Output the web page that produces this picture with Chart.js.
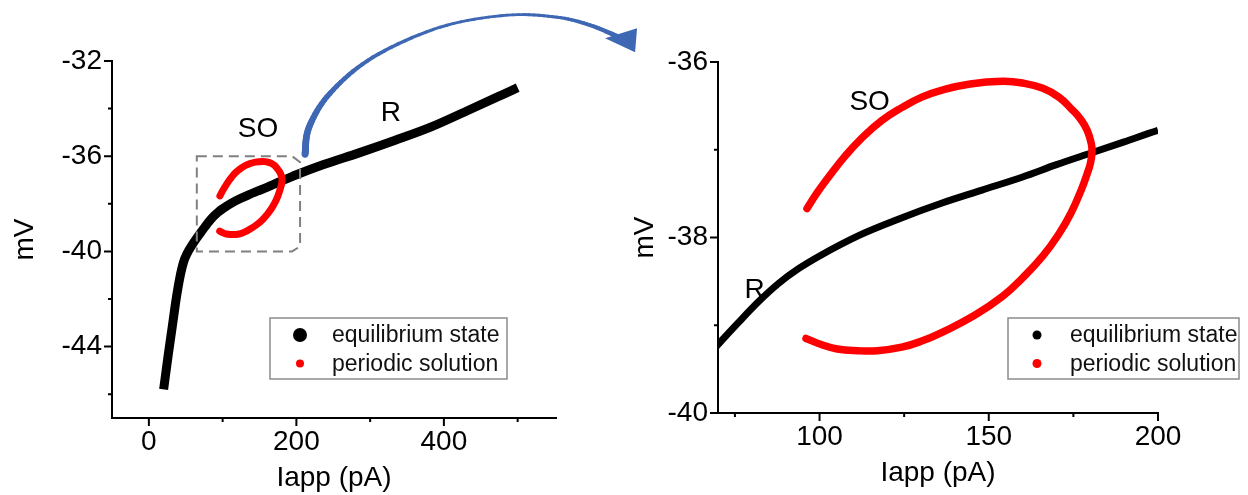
<!DOCTYPE html>
<html lang="en">
<head>
<meta charset="UTF-8">
<title>Equilibrium state and periodic solution</title>
<script src="https://cdn.jsdelivr.net/npm/chart.js"></script>
<style>
  * { margin: 0; padding: 0; box-sizing: border-box; }
  body { width: 1248px; height: 495px; background: #fff; overflow: hidden; position: relative; }
  .panel { position: absolute; top: 0; height: 495px; }
  #leftWrap { left: 0; width: 645px; }
  #rightWrap { left: 620px; width: 628px; }
</style>
</head>
<body>
<div class="panel" id="leftWrap"><canvas id="leftChart" width="645" height="495"></canvas></div>
<div class="panel" id="rightWrap"><canvas id="rightChart" width="628" height="495"></canvas></div>
<script>
// equilibrium state (black branch), Iapp in pA, V in mV
const eqX = [20, 26, 32, 37, 42, 47, 52, 58, 64, 70, 76, 82, 88, 94, 100, 112, 124, 136, 148, 160, 170, 180, 190, 200, 236, 285, 334, 382, 431, 479, 500];
const eqY = [-45.8, -44.4, -43.1, -42.0, -41.1, -40.45, -40.08, -39.76, -39.48, -39.22, -38.97, -38.73, -38.52, -38.35, -38.21, -37.97, -37.78, -37.61, -37.46, -37.31, -37.17, -37.04, -36.91, -36.78, -36.36, -35.86, -35.33, -34.78, -34.1, -33.42, -33.12];

// periodic solution (red, SO branch)
const soX = [96.3, 99.3, 102.9, 107.6, 112.4, 118.3, 124.3, 130.2, 136.2, 144.5, 154.1, 160, 166, 170.7, 174.3, 177.3, 179.1, 180.3, 180.5, 180, 179.1, 177.3, 174.3, 170.7, 166, 160, 154.1, 145.7, 136.2, 130.2, 124.3, 117.1, 111.2, 105.2, 100.5, 96];
const soY = [-37.67, -37.49, -37.3, -37.07, -36.87, -36.67, -36.52, -36.4, -36.32, -36.25, -36.22, -36.24, -36.3, -36.4, -36.53, -36.66, -36.78, -36.93, -37.03, -37.16, -37.27, -37.46, -37.72, -37.96, -38.21, -38.46, -38.67, -38.89, -39.08, -39.18, -39.25, -39.29, -39.29, -39.27, -39.22, -39.15];

const seriesNames = ['equilibrium state', 'periodic solution'];

// tick labels
const leftXMajor = [0, 200, 400];
const leftXMinor = [100, 300, 500];
const leftYMajor = [-32, -36, -40, -44];
const leftYMinor = [-34, -38, -42, -46];
const rightXMajor = [100, 150, 200];
const rightXMinor = [75, 125, 175];
const rightYMajor = [-36, -38, -40];
const rightYMinor = [-37, -39];

const FONT = '"Liberation Sans", Arial, sans-serif';
Chart.defaults.color = '#000';
Chart.defaults.font.family = FONT;

function pts(xs, ys) {
  return xs.map((x, i) => ({ x: x, y: ys[i] }));
}

// tick marks (major long, minor short), legend and text labels
const decorPlugin = {
  id: 'decor',
  afterDraw(chart, args, o) {
    const ctx = chart.ctx;
    const xs = chart.scales.x, ys = chart.scales.y;
    const a = chart.chartArea;
    ctx.save();
    ctx.strokeStyle = '#000';
    ctx.lineWidth = 2;
    ctx.beginPath();
    o.xMajor.forEach(v => { const p = xs.getPixelForValue(v); ctx.moveTo(p, a.bottom); ctx.lineTo(p, a.bottom + 8); });
    o.xMinor.forEach(v => { const p = xs.getPixelForValue(v); ctx.moveTo(p, a.bottom); ctx.lineTo(p, a.bottom + 4); });
    o.yMajor.forEach(v => { const p = ys.getPixelForValue(v); ctx.moveTo(a.left, p); ctx.lineTo(a.left - 8, p); });
    o.yMinor.forEach(v => { const p = ys.getPixelForValue(v); ctx.moveTo(a.left, p); ctx.lineTo(a.left - 4, p); });
    ctx.stroke();

    // text labels on the branches
    ctx.fillStyle = '#000';
    ctx.font = '28px ' + FONT;
    ctx.textAlign = 'center';
    ctx.textBaseline = 'middle';
    o.notes.forEach(n => ctx.fillText(n.text, xs.getPixelForValue(n.x), ys.getPixelForValue(n.y)));

    // legend
    const L = o.legend;
    ctx.strokeStyle = '#8c8c8c';
    ctx.lineWidth = 1.5;
    ctx.strokeRect(L.x, L.y, L.w, L.h);
    ctx.font = '23px ' + FONT;
    ctx.textAlign = 'left';
    chart.data.datasets.forEach((ds, i) => {
      const cy = L.y + 17 + i * 28.5;
      ctx.fillStyle = ds.borderColor;
      ctx.beginPath();
      ctx.arc(L.x + L.mark, cy, L.r[i], 0, Math.PI * 2);
      ctx.fill();
      ctx.fillStyle = '#111';
      ctx.fillText(ds.label, L.x + L.text, cy + 1);
    });
    ctx.restore();
    if (o.extra) o.extra(chart);
  }
};

function makePanel(id, c) {
  return new Chart(document.getElementById(id), {
    type: 'line',
    data: {
      datasets: [
        { label: seriesNames[0], data: pts(eqX, eqY), borderColor: '#000', backgroundColor: '#000',
          pointRadius: 0, borderWidth: c.eqWidth, cubicInterpolationMode: 'monotone',
          clip: 0, order: 2 },
        { label: seriesNames[1], data: pts(soX, soY), borderColor: '#ff0000', backgroundColor: '#ff0000',
          pointRadius: 0, borderWidth: c.soWidth, tension: 0.45,
          borderCapStyle: 'round', clip: 0, order: 1 }
      ]
    },
    options: {
      responsive: false,
      animation: false,
      events: [],
      layout: { padding: c.padding },
      plugins: {
        legend: { display: false },
        tooltip: { enabled: false },
        decor: c.decor
      },
      scales: {
        x: {
          type: 'linear', min: c.xMin, max: c.xMax,
          grid: { display: false, drawTicks: false },
          border: { display: true, color: '#000', width: 2 },
          ticks: { font: { size: 28 }, padding: 7, maxRotation: 0, callback: v => String(v) },
          afterBuildTicks: s => { s.ticks = c.decor.xMajor.map(v => ({ value: v })); },
          afterFit: s => { s.height = c.xHeight; },
          title: { display: true, text: 'Iapp (pA)', font: { size: 28 }, padding: { top: 0, bottom: c.xTitlePad } }
        },
        y: {
          type: 'linear', min: c.yMin, max: c.yMax,
          grid: { display: false, drawTicks: false },
          border: { display: true, color: '#000', width: 2 },
          ticks: { font: { size: 28 }, padding: 10, callback: v => String(v) },
          afterBuildTicks: s => { s.ticks = c.decor.yMajor.map(v => ({ value: v })); },
          afterFit: s => { s.width = c.yWidth; },
          title: { display: true, text: 'mV', font: { size: 28 }, padding: { top: 8, bottom: 0 } }
        }
      }
    },
    plugins: [decorPlugin]
  });
}

// dashed zoom box and curved arrow on the left panel
function drawZoomMarks(chart) {
  const ctx = chart.ctx;
  const xs = chart.scales.x, ys = chart.scales.y;
  const x0 = xs.getPixelForValue(65), x1 = xs.getPixelForValue(205);
  const y0 = ys.getPixelForValue(-36), y1 = ys.getPixelForValue(-40);
  ctx.save();
  ctx.strokeStyle = '#808080';
  ctx.lineWidth = 2;
  ctx.setLineDash([10, 6]);
  ctx.beginPath();
  ctx.moveTo(x0, y0);
  ctx.lineTo(x1 - 8, y0);
  ctx.lineTo(x1, y0 + 6);
  ctx.lineTo(x1, y1 - 5);
  ctx.lineTo(x1 - 8, y1);
  ctx.lineTo(x0, y1);
  ctx.closePath();
  ctx.stroke();
  ctx.setLineDash([]);

  // arrow from the box to the zoomed panel
  const sx = x1 + 5, sy = y0 - 4;
  const path = [[sx, sy + 2], [sx + 4, sy - 25], [sx + 25, sy - 59], [sx + 68, sy - 95], [sx + 135, sy - 125],
                [sx + 202, sy - 137], [sx + 252, sy - 135], [sx + 285, sy - 127], [sx + 312, sy - 116]];
  const widths = [7, 6.5, 5.2, 3.8, 3, 2.8, 3.1, 3.8, 4.6];
  const cr = (p0, p1, p2, p3, t) => 0.5 * (2 * p1 + (-p0 + p2) * t + (2 * p0 - 5 * p1 + 4 * p2 - p3) * t * t + (-p0 + 3 * p1 - 3 * p2 + p3) * t * t * t);
  ctx.strokeStyle = '#3f68b4';
  ctx.lineCap = 'round';
  for (let i = 0; i < path.length - 1; i++) {
    const p0 = path[Math.max(0, i - 1)], p1 = path[i], p2 = path[i + 1], p3 = path[Math.min(path.length - 1, i + 2)];
    let prev = p1;
    for (let k = 1; k <= 10; k++) {
      const t = k / 10;
      const q = [cr(p0[0], p1[0], p2[0], p3[0], t), cr(p0[1], p1[1], p2[1], p3[1], t)];
      ctx.lineWidth = widths[i] + (widths[i + 1] - widths[i]) * t;
      ctx.beginPath();
      ctx.moveTo(prev[0], prev[1]);
      ctx.lineTo(q[0], q[1]);
      ctx.stroke();
      prev = q;
    }
  }
  ctx.fillStyle = '#3f68b4';
  ctx.beginPath();
  ctx.moveTo(sx + 300, sy - 114);
  ctx.lineTo(sx + 332, sy - 124);
  ctx.lineTo(sx + 330, sy - 100);
  ctx.closePath();
  ctx.fill();
  ctx.restore();
}

makePanel('leftChart', {
  xMin: -50, xMax: 552, yMin: -47, yMax: -32,
  padding: { left: 0, top: 61, right: 89, bottom: 0 },
  yWidth: 112, xHeight: 77, xTitlePad: 0,
  eqWidth: 9, soWidth: 7,
  decor: {
    xMajor: leftXMajor, xMinor: leftXMinor, yMajor: leftYMajor, yMinor: leftYMinor,
    notes: [{ text: 'SO', x: 148, y: -34.87 }, { text: 'R', x: 328, y: -34.2 }],
    legend: { x: 270, y: 318, w: 237, h: 61, mark: 30, text: 62, r: [7, 4] },
    extra: drawZoomMarks
  }
});

makePanel('rightChart', {
  xMin: 70, xMax: 200, yMin: -40, yMax: -36,
  padding: { left: 0, top: 62, right: 90, bottom: 0 },
  yWidth: 98, xHeight: 82, xTitlePad: 5,
  eqWidth: 7, soWidth: 7.5,
  decor: {
    xMajor: rightXMajor, xMinor: rightXMinor, yMajor: rightYMajor, yMinor: rightYMinor,
    notes: [{ text: 'SO', x: 114.8, y: -36.46 }, { text: 'R', x: 80.8, y: -38.6 }],
    legend: { x: 388, y: 318, w: 231, h: 61, mark: 29, text: 62, r: [4.5, 4.5] }
  }
});
</script>
</body>
</html>
